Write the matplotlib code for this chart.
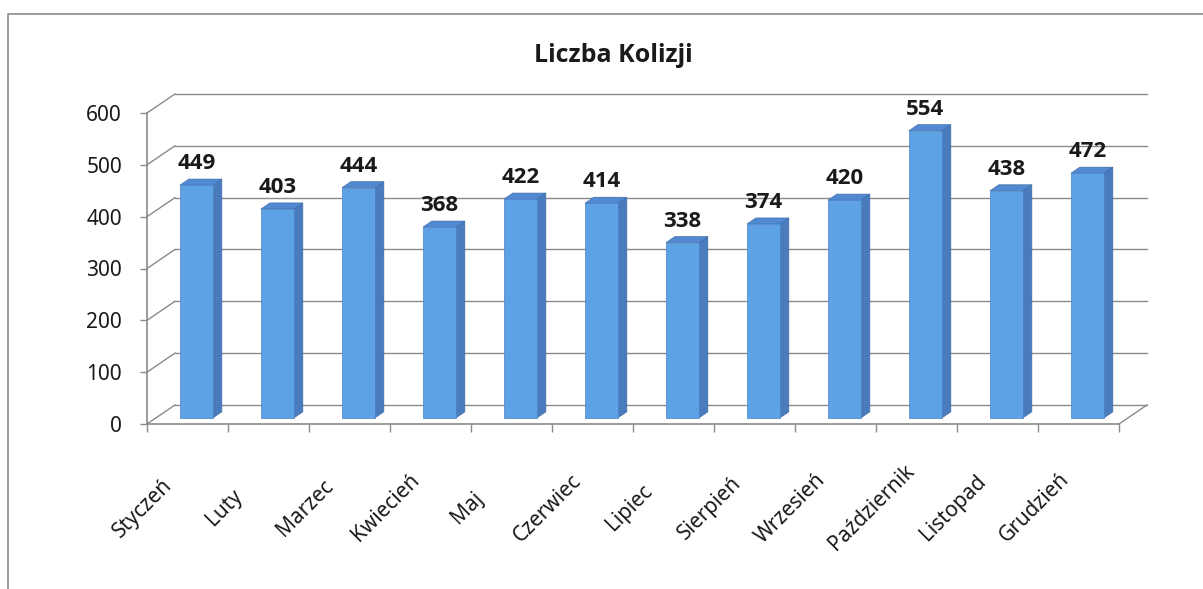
import matplotlib
matplotlib.use("Agg")
import matplotlib.pyplot as plt
from matplotlib.patches import Rectangle, Polygon

plt.rcParams['font.family'] = ['Noto Sans', 'DejaVu Sans']
BOLD = ['Open Sans', 'DejaVu Sans']

# data
months = ["Styczeń", "Luty", "Marzec", "Kwiecień", "Maj", "Czerwiec", "Lipiec",
          "Sierpień", "Wrzesień", "Październik", "Listopad", "Grudzień"]
collisions = [449, 403, 444, 368, 422, 414, 338, 374, 420, 554, 438, 472]
yticks = [0, 100, 200, 300, 400, 500, 600]
title = "Liczba Kolizji"

# pseudo-3d geometry (category / value units)
DX, DY = 0.345, 36.7      # depth shift of back wall
F0, F1 = 0.32, 0.64       # bar front / back depth fraction
BX, BW = 0.296, 0.407     # bar offset and width inside category
GRID = '#8a8a8a'
FRONT, SIDE, TOP = '#5ea2e6', '#4a7bbd', '#5189d2'

fig = plt.figure(figsize=(12.03, 5.89), dpi=100)
ax = fig.add_axes([147/1203, (589-424)/589, 972/1203, 311/589])
n = len(months)
ax.set_xlim(0, n)
ax.set_ylim(0, 600)

# outer frame
fig.patches.append(Rectangle((8/1203, -0.05), 1.1, 1 - 14/589 + 0.05, transform=fig.transFigure,
                             fill=False, edgecolor='#8c8c8c', lw=1.2))

# back wall gridlines and side wall diagonals
for v in yticks:
    ax.plot([DX, n + DX], [v + DY, v + DY], color=GRID, lw=1, clip_on=False, zorder=1)
    ax.plot([0, DX], [v, v + DY], color=GRID, lw=1, clip_on=False, zorder=1)
ax.plot([n, n + DX], [0, DY], color=GRID, lw=1, clip_on=False, zorder=1)

# bars
dd = F1 - F0
for i, v in enumerate(collisions):
    x0 = i + BX + F0 * DX
    y0 = F0 * DY
    ax.add_patch(Polygon([(x0 + BW, y0), (x0 + BW + dd * DX, y0 + dd * DY),
                          (x0 + BW + dd * DX, y0 + v + dd * DY), (x0 + BW, y0 + v)],
                         closed=True, facecolor=SIDE, edgecolor='#3f6ea8', lw=0.5, zorder=3, clip_on=False))
    ax.add_patch(Polygon([(x0, y0 + v), (x0 + BW, y0 + v), (x0 + BW + dd * DX, y0 + v + dd * DY),
                          (x0 + dd * DX, y0 + v + dd * DY)],
                         closed=True, facecolor=TOP, edgecolor='#3f6ea8', lw=0.5, zorder=3, clip_on=False))
    ax.add_patch(Rectangle((x0, y0), BW, v, facecolor=FRONT, edgecolor='#4a80c4', lw=0.5,
                           zorder=4, clip_on=False))
    ax.annotate(str(v), (x0 + BW / 2, y0 + v), xytext=(0, 11.5), textcoords='offset points',
                ha='center', va='baseline', fontsize=16, fontweight='bold', family=BOLD,
                color='#1a1a1a', zorder=5)

# axes
for s in ['top', 'right']:
    ax.spines[s].set_visible(False)
for s in ['left', 'bottom']:
    ax.spines[s].set_color(GRID)
    ax.spines[s].set_linewidth(1.2)
ax.set_yticks(yticks)
ax.set_yticklabels([str(t) for t in yticks])
ax.set_xticks(range(n + 1))
ax.set_xticklabels([])
ax.tick_params(axis='y', direction='out', length=5, width=1, color=GRID, pad=13, labelsize=15,
               labelcolor='#1a1a1a')
ax.tick_params(axis='x', direction='out', length=6, width=1, color=GRID)
ax.patch.set_visible(False)

for i, m in enumerate(months):
    ax.text(i - 0.05, -162, m, rotation=45, ha='center', va='center', fontsize=15,
            color='#1a1a1a', clip_on=False)

fig.text(613/1203, 1 - 56/589, title, ha='center', va='center', fontsize=18,
         fontweight='bold', family=BOLD, color='#1a1a1a')

fig.savefig('out.png', dpi=100)
